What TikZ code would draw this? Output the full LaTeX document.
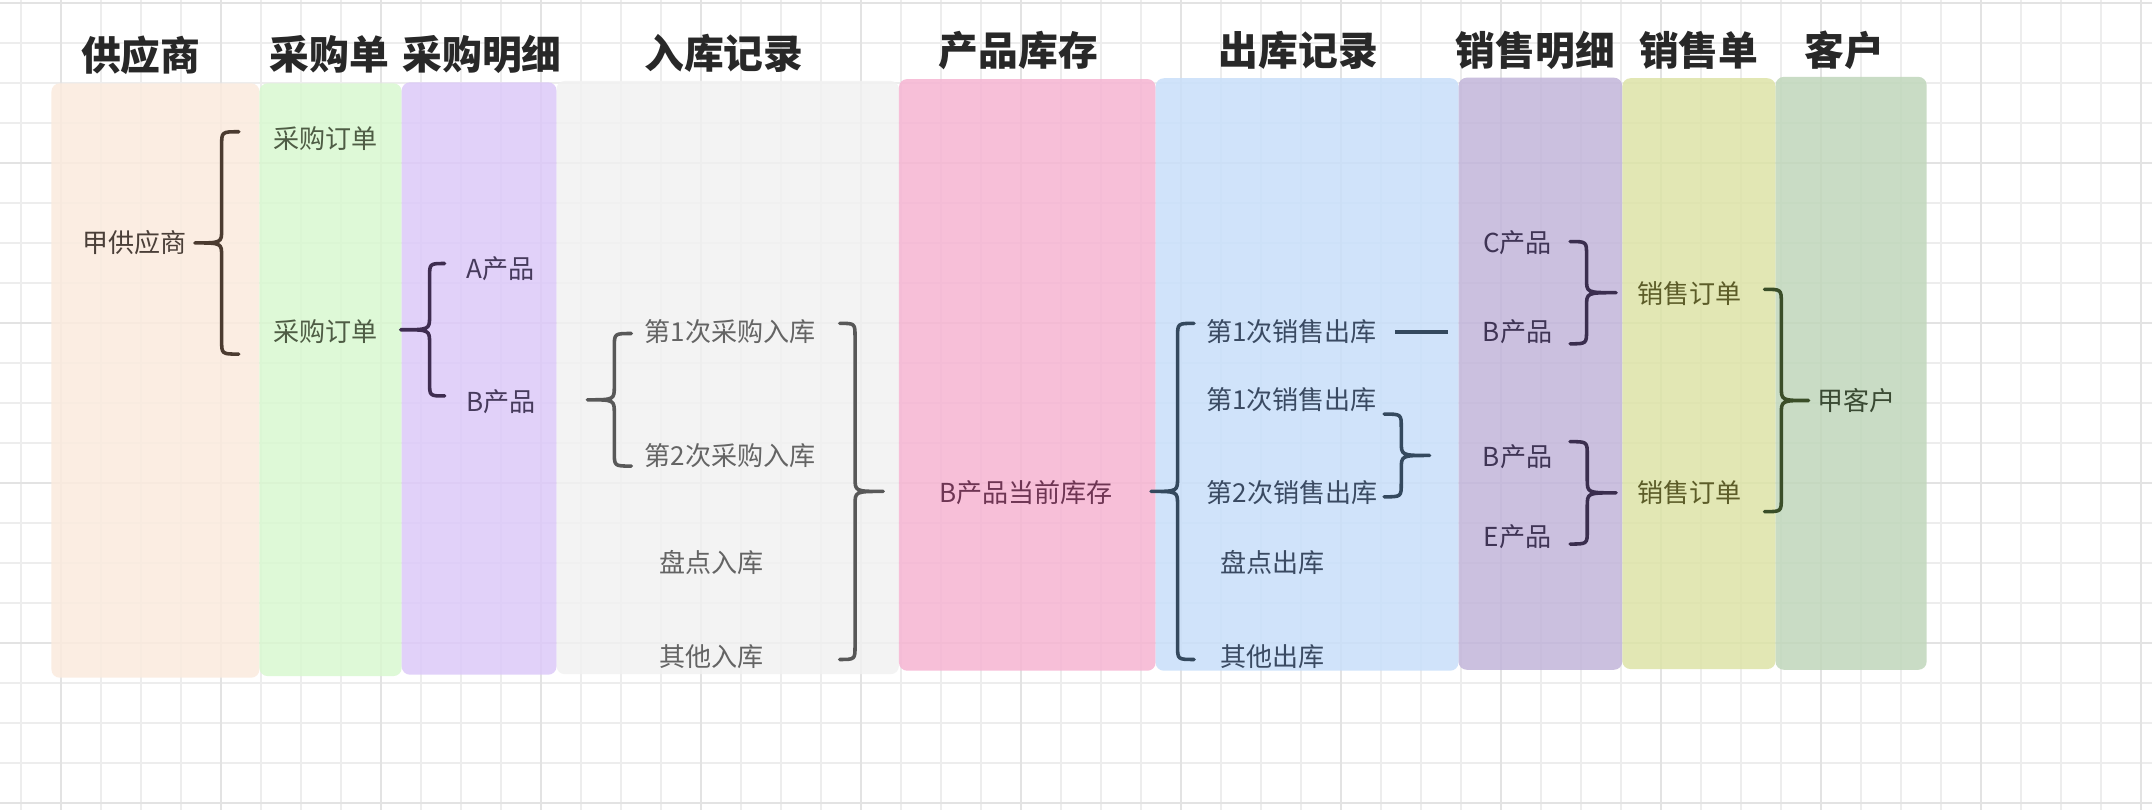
\documentclass[tikz,border=0pt]{standalone}
\usepackage{fontspec}
\setmainfont{Noto Sans CJK SC}
\definecolor{cpeach}{RGB}{251,235,222}
\definecolor{cgreen}{RGB}{217,248,208}
\definecolor{clav}{RGB}{220,201,249}
\definecolor{cgray}{RGB}{241,241,241}
\definecolor{cpink}{RGB}{246,180,210}
\definecolor{cblue}{RGB}{200,223,250}
\definecolor{cpurp}{RGB}{194,181,218}
\definecolor{cyell}{RGB}{221,227,167}
\definecolor{csage}{RGB}{192,215,187}
\definecolor{tbrown}{RGB}{74,63,56}
\definecolor{bbrown}{RGB}{75,59,48}
\definecolor{tgreen}{RGB}{78,92,68}
\definecolor{tlav}{RGB}{70,58,92}
\definecolor{blav}{RGB}{62,44,80}
\definecolor{tgray}{RGB}{100,100,100}
\definecolor{bgray}{RGB}{88,88,88}
\definecolor{tpink}{RGB}{110,53,83}
\definecolor{tnavy}{RGB}{58,74,98}
\definecolor{bnavy}{RGB}{52,73,94}
\definecolor{tpurp}{RGB}{63,52,85}
\definecolor{bpurp}{RGB}{58,45,78}
\definecolor{tolive}{RGB}{92,92,40}
\definecolor{tsage}{RGB}{58,74,51}
\definecolor{bsage}{RGB}{58,78,40}
\definecolor{ttitle}{RGB}{40,40,40}
\newcommand{\mybrace}[6]{%
  \pgfmathsetmacro\ym{(#5+#6)/2}%
  \draw[br,#1] (#2,#5) .. controls (#3,#5) .. (#3,{#5+10}) -- (#3,{\ym-10})
    .. controls (#3,\ym) .. (#4,\ym) .. controls (#3,\ym) .. (#3,{\ym+10})
    -- (#3,{#6-10}) .. controls (#3,#6) .. (#2,#6);}
\begin{document}
\begin{tikzpicture}[x=1pt,y=-1pt,
  gridminor/.style={draw=black!7, line width=0.9pt},
  gridmajor/.style={draw=black!11, line width=1.2pt},
  col/.style={rounded corners=6pt, fill opacity=0.85},
  title/.style={font=\fontsize{29}{32}\selectfont\bfseries, text=ttitle, inner sep=0pt},
  lbl/.style={font=\fontsize{19}{22}\selectfont, inner sep=0pt},
  br/.style={line width=2.6pt, line cap=round, line join=round}]
\useasboundingbox (0,0) rectangle (1568,590);
\fill[white] (0,0) rectangle (1568,590);
% grid
\foreach \k in {0,...,53}{\draw[gridminor] ({15.3+29.146*\k},0) -- ({15.3+29.146*\k},590);}
\foreach \k in {0,...,20}{\draw[gridminor] (0,{2.19+29.146*\k}) -- (1568,{2.19+29.146*\k});}
\foreach \k in {1,5,...,53}{\draw[gridmajor] ({15.3+29.146*\k},0) -- ({15.3+29.146*\k},590);}
\foreach \k in {0,4,...,20}{\draw[gridmajor] (0,{2.19+29.146*\k}) -- (1568,{2.19+29.146*\k});}
% columns
\fill[col,cpeach] (37.5,60.7) rectangle (189,493.8);
\fill[col,cgreen] (189,60.7) rectangle (292.7,492.6);
\fill[col,clav] (292.7,60) rectangle (405.5,491.6);
\fill[col,cgray] (405.5,59) rectangle (655,491.2);
\fill[col,cpink] (655,57.6) rectangle (842,488.7);
\fill[col,cblue] (842,57) rectangle (1062.7,488.7);
\fill[col,cpurp] (1062.7,56.6) rectangle (1182,488);
\fill[col,cyell] (1182,57) rectangle (1293.7,487.5);
\fill[col,csage] (1293.7,56) rectangle (1403.8,488);
% titles
\node[title] (t1) at (102.6,40) {供应商};
\node[title] (t2) at (240,39.4) {采购单};
\node[title] (t3) at (351.3,39.4) {采购明细};
\node[title] (t4) at (527.5,39) {入库记录};
\node[title] (t5) at (742,37) {产品库存};
\node[title] (t6) at (946,37) {出库记录};
\node[title] (t7) at (1118.7,36.4) {销售明细};
\node[title] (t8) at (1237.7,36.4) {销售单};
\node[title] (t9) at (1344,36.4) {客户};
% labels
\node[lbl,text=tbrown] (gys) at (98,177) {甲供应商};
\node[lbl,text=tgreen] (cg1) at (237,100.8) {采购订单};
\node[lbl,text=tgreen] (cg2) at (237,241.7) {采购订单};
\node[lbl,text=tlav] (pa) at (365,195.6) {A产品};
\node[lbl,text=tlav] (pb) at (365,292.7) {B产品};
\node[lbl,text=tgray] (rk1) at (532,241.5) {第1次采购入库};
\node[lbl,text=tgray] (rk2) at (532,332) {第2次采购入库};
\node[lbl,text=tgray] (rk3) at (518.5,410) {盘点入库};
\node[lbl,text=tgray] (rk4) at (518.5,478.5) {其他入库};
\node[lbl,text=tpink] (kc) at (747.7,359) {B产品当前库存};
\node[lbl,text=tnavy] (ck1) at (941,241.7) {第1次销售出库};
\node[lbl,text=tnavy] (ck2) at (941,291.5) {第1次销售出库};
\node[lbl,text=tnavy] (ck3) at (941.5,359) {第2次销售出库};
\node[lbl,text=tnavy] (ck4) at (927,410) {盘点出库};
\node[lbl,text=tnavy] (ck5) at (927,478.5) {其他出库};
\node[lbl,text=tpurp] (xc) at (1105.7,177) {C产品};
\node[lbl,text=tpurp] (xb1) at (1105.7,241.7) {B产品};
\node[lbl,text=tpurp] (xb2) at (1105.7,333) {B产品};
\node[lbl,text=tpurp] (xe) at (1105.7,391) {E产品};
\node[lbl,text=tolive] (xs1) at (1231,213.7) {销售订单};
\node[lbl,text=tolive] (xs2) at (1231,359) {销售订单};
\node[lbl,text=tsage] (kh) at (1353,291.5) {甲客户};
% braces
\mybrace{bbrown}{174}{161.5}{142}{96}{258}
\mybrace{blav}{324}{313}{292}{192}{288.5}
\mybrace{bgray}{460}{447.6}{428}{243}{339.6}
\mybrace{bgray}{611.8}{623}{643.5}{235.6}{480.5}
\mybrace{bnavy}{870}{858}{838.7}{235.6}{480.5}
\mybrace{bnavy}{1008.5}{1021}{1041.6}{301.7}{362}
\mybrace{bpurp}{1144}{1156}{1177.5}{176}{250.5}
\mybrace{bpurp}{1144}{1156.5}{1177.5}{321.8}{396.4}
\mybrace{bsage}{1285.7}{1297.9}{1317.8}{210.8}{372.8}
% connector
\draw[br,bnavy,line cap=butt] ([xshift=13pt]ck1.east) -- ([xshift=-25pt]xb1.west);
\end{tikzpicture}
\end{document}
